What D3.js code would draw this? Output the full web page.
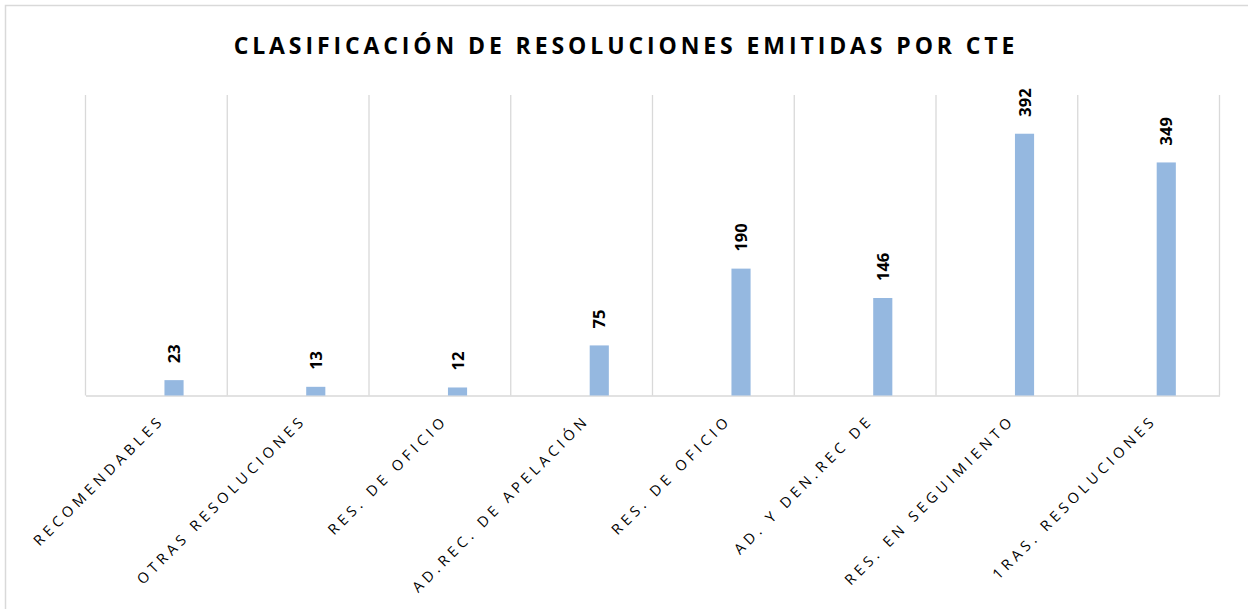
<!DOCTYPE html>
<html><head><meta charset="utf-8">
<script src="https://cdn.jsdelivr.net/npm/d3@7"></script>
<style>html,body{margin:0;padding:0;background:#fff;}</style>
</head><body>
<svg id="c" width="1248" height="609"></svg>
<script>
const categories = ["RECOMENDABLES","OTRAS RESOLUCIONES","RES. DE OFICIO","AD.REC. DE APELACIÓN","RES. DE OFICIO","AD. Y DEN.REC DE","RES. EN SEGUIMIENTO","1RAS. RESOLUCIONES"];
const values = [23,13,12,75,190,146,392,349];
const title = "CLASIFICACIÓN DE RESOLUCIONES EMITIDAS POR CTE";
(function(){
const svg = d3.select("#c");
svg.append("rect").attr("x",5.5).attr("y",5.5).attr("width",1260).attr("height",620)
  .attr("fill","#fff").attr("stroke","#d9d9d9").attr("stroke-width",1.5);

const pL=85.5, pR=1219.5, pT=95, pB=395.5;
const idx = categories.map((d,i)=>i);
const x = d3.scaleBand().domain(idx).range([pL,pR]).padding(0);
const y = d3.scaleLinear().domain([0,450]).range([pB,pT]);

const bounds = idx.map(i=>x(i)).concat([pR]);
svg.append("g").selectAll("line").data(bounds).join("line")
  .attr("x1",d=>d).attr("x2",d=>d).attr("y1",pT).attr("y2",pB)
  .attr("stroke","#d9d9d9").attr("stroke-width",1.3);

const xAxis = d3.axisBottom(x).tickSize(0).tickFormat("");
const gx = svg.append("g").attr("transform",`translate(0,${pB})`).call(xAxis);
gx.select(".domain").attr("stroke","#d9d9d9").attr("stroke-width",1.5);

const bw = x.bandwidth();
const barOff = bw*0.557, barW = bw*0.135;
svg.append("g").selectAll("rect").data(values).join("rect")
  .attr("x",(d,i)=>x(i)+barOff).attr("width",barW)
  .attr("y",d=>y(d)).attr("height",d=>y(0)-y(d))
  .attr("fill","#95b8e0");

svg.append("g").selectAll("text").data(values).join("text")
  .attr("transform",(d,i)=>`translate(${x(i)+barOff+barW/2+6},${y(d)-17}) rotate(-90)`)
  .attr("text-anchor","start")
  .attr("font-family","'Open Sans', sans-serif").attr("font-weight","bold")
  .attr("font-size",16.5).attr("fill","#000")
  .text(d=>d);

svg.append("g").selectAll("text").data(categories).join("text")
  .attr("transform",(d,i)=>`translate(${x(i)+bw/2+9},${421}) rotate(-45)`)
  .attr("text-anchor","end")
  .attr("font-family","'Open Sans', sans-serif").attr("font-size",14.5)
  .attr("letter-spacing","4.3px").attr("fill","#000")
  .text(d=>d);

svg.append("text").attr("x",626).attr("y",54).attr("text-anchor","middle")
  .attr("font-family","'Open Sans', sans-serif").attr("font-weight","bold")
  .attr("font-size",23).attr("letter-spacing","3.9px").attr("fill","#000")
  .text(title);
})();
</script>
</body></html>
